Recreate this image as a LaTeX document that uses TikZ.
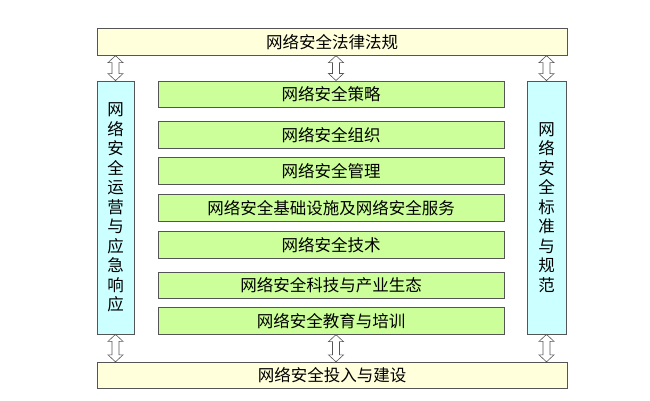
\documentclass[tikz,border=0pt]{standalone}
\usepackage{fontspec}
\setmainfont{Noto Sans CJK SC}
\usetikzlibrary{calc}
\definecolor{Y}{RGB}{255, 255, 219}
\definecolor{G}{RGB}{204, 255, 153}
\definecolor{C}{RGB}{204, 255, 255}
\definecolor{E}{RGB}{85, 85, 85}
\tikzset{
  box/.style={draw=E, line width=0.8pt, rectangle, inner sep=0pt,
    font=\fontsize{16.5}{19.5}\selectfont},
  bar/.style={box, fill=Y, minimum width=470pt, minimum height=26.5pt},
  item/.style={box, fill=G, minimum width=346.5pt, minimum height=26.5pt},
  side/.style={box, fill=C, minimum height=253pt, align=center},
  arrowline/.style={draw=E, fill=white, line width=0.6pt, line join=miter}
}
\newcommand{\dbarrow}[2]{%
  \draw[arrowline] let \p1=#1, \p2=#2 in
    (\x1,\y1) -- (\x1+7.5pt,\y1-7pt) -- (\x1+3.5pt,\y1-7pt)
    -- (\x1+3.5pt,\y2+7pt) -- (\x1+7.5pt,\y2+7pt) -- (\x2,\y2)
    -- (\x1-7.5pt,\y2+7pt) -- (\x1-3.5pt,\y2+7pt)
    -- (\x1-3.5pt,\y1-7pt) -- (\x1-7.5pt,\y1-7pt) -- cycle;}

\begin{document}
\begin{tikzpicture}[x=1pt, y=-1pt]
  \useasboundingbox (0,0) rectangle (650,401);

  %# BARRAS SUPERIOR E INFERIOR
  \node[bar] (law) at (332,42) {网络安全法律法规};
  \node[bar] (inv) at (332,375.5) {网络安全投入与建设};

  %# COLUMNAS LATERALES
  \node[side, minimum width=37pt] (ops) at (115.5,207.5)
    {网\\络\\安\\全\\运\\营\\与\\应\\急\\响\\应};
  \node[side, minimum width=39pt] (std) at (546.5,207.5)
    {网\\络\\安\\全\\标\\准\\与\\规\\范};

  %# BLOQUES CENTRALES
  \node[item] (s1) at (331.2,94.2) {网络安全策略};
  \node[item] (s2) at (331.2,134.7) {网络安全组织};
  \node[item] (s3) at (331.2,171) {网络安全管理};
  \node[item] (s4) at (331.2,208) {网络安全基础设施及网络安全服务};
  \node[item] (s5) at (331.2,245) {网络安全技术};
  \node[item] (s6) at (331.2,285.6) {网络安全科技与产业生态};
  \node[item] (s7) at (331.2,321) {网络安全教育与培训};

  %# FLECHAS
  \dbarrow{(law.south -| ops.north)}{(ops.north)}
  \dbarrow{(law.south -| std.north)}{(std.north)}
  \dbarrow{($(law.south)+(4,0)$)}{($(s1.north -| law.south)+(4,0)$)}
  \dbarrow{(ops.south)}{(inv.north -| ops.south)}
  \dbarrow{(std.south)}{(inv.north -| std.south)}
  \dbarrow{($(s7.south -| inv.north)+(4,0)$)}{($(inv.north)+(4,0)$)}
\end{tikzpicture}
\end{document}
